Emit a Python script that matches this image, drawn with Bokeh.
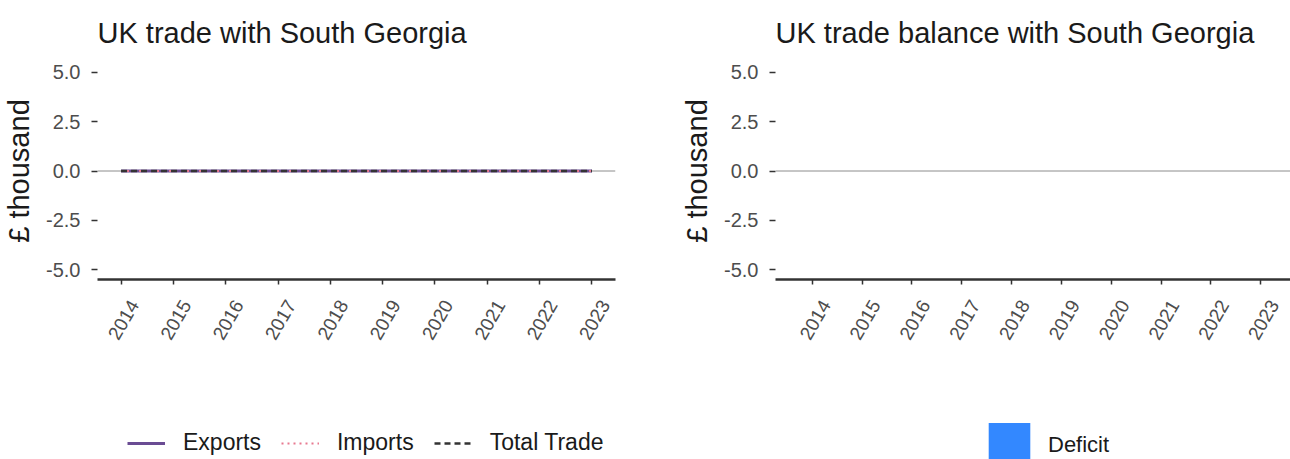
import math
from bokeh.plotting import figure
from bokeh.layouts import row, column
from bokeh.models import (FixedTicker, Span, Legend, LegendItem, Range1d, LinearAxis,
                          CustomLabelingPolicy)
from bokeh.embed import file_html
from bokeh.resources import INLINE

# ---- data ----
years = [2014, 2015, 2016, 2017, 2018, 2019, 2020, 2021, 2022, 2023]
year_labels = ["2014", "2015", "2016", "2017", "2018", "2019", "2020", "2021", "2022", "2023"]
exports = [0, 0, 0, 0, 0, 0, 0, 0, 0, 0]
imports = [0, 0, 0, 0, 0, 0, 0, 0, 0, 0]
total_trade = [0, 0, 0, 0, 0, 0, 0, 0, 0, 0]
balance = [0, 0, 0, 0, 0, 0, 0, 0, 0, 0]
y_ticks = [-5.0, -2.5, 0.0, 2.5, 5.0]
y_tick_labels = ["-5.0", "-2.5", "0.0", "2.5", "5.0"]

FONT = "Liberation Sans"
H = 413      # chart figures
LH = 46      # legend strip

EXP_STYLE = dict(line_color="#6a4c93", line_width=3)
IMP_STYLE = dict(line_color="#e8798f", line_width=2, line_dash="dotted")
TOT_STYLE = dict(line_color="#333333", line_width=2.5, line_dash="6 4")
DEF_STYLE = dict(fill_color="#3388ff", line_color=None)


def style(p, title, xr, label_shift):
    p.title.text = title
    p.title.text_font = FONT
    p.title.text_font_size = "29px"
    p.title.text_font_style = "normal"
    p.title.text_color = "#1a1a1a"
    p.title.align = "left"
    p.title.standoff = 28
    p.outline_line_color = None
    p.xgrid.grid_line_color = None
    p.ygrid.grid_line_color = None

    # main x axis: line + ticks only
    xa = p.xaxis[0]
    xa.ticker = FixedTicker(ticks=years)
    xa.major_label_policy = CustomLabelingPolicy(code="return []")
    xa.major_label_standoff = 0
    xa.axis_line_color = "#333333"
    xa.axis_line_width = 2.5
    xa.major_tick_line_color = "#333333"
    xa.major_tick_line_width = 1.5
    xa.major_tick_out = 5
    xa.major_tick_in = 0
    xa.minor_tick_line_color = None

    # year labels (ggplot-style centring under the ticks)
    p.extra_x_ranges = {"labels": Range1d(xr[0] - label_shift, xr[1] - label_shift)}
    la = LinearAxis(x_range_name="labels", ticker=FixedTicker(ticks=years),
                    major_label_overrides={y: l for y, l in zip(years, year_labels)},
                    major_label_orientation=math.pi / 3, major_label_standoff=6,
                    major_label_text_font=FONT, major_label_text_font_size="19px",
                    major_label_text_color="#4d4d4d",
                    axis_line_color=None, major_tick_line_color=None,
                    major_tick_out=0, major_tick_in=0, minor_tick_line_color=None)
    p.add_layout(la, "below")

    ya = p.yaxis[0]
    ya.ticker = FixedTicker(ticks=y_ticks)
    ya.major_label_overrides = {t: l for t, l in zip(y_ticks, y_tick_labels)}
    ya.major_label_text_font = FONT
    ya.major_label_text_font_size = "20px"
    ya.major_label_text_color = "#4d4d4d"
    ya.major_label_standoff = 11
    ya.axis_line_color = None
    ya.major_tick_line_color = "#333333"
    ya.major_tick_line_width = 1.5
    ya.major_tick_out = 6
    ya.major_tick_in = 0
    ya.minor_tick_line_color = None
    ya.axis_label = "£ thousand"
    ya.axis_label_text_font = FONT
    ya.axis_label_text_font_size = "29px"
    ya.axis_label_text_font_style = "normal"
    ya.axis_label_text_color = "#1a1a1a"
    ya.axis_label_standoff = 8

    p.add_layout(Span(location=0, dimension="width", line_color="#8c8c8c", line_width=1, level="underlay"))


def legend_strip(width):
    f = figure(width=width, height=LH, x_range=(0, 1), y_range=(0, 1),
               x_axis_type=None, y_axis_type=None,
               output_backend="svg", toolbar_location=None,
               min_border_left=0, min_border_right=0, min_border_top=0, min_border_bottom=0)
    f.outline_line_color = None
    f.xgrid.grid_line_color = None
    f.ygrid.grid_line_color = None
    return f


# ---- left: trade ----
xr1 = (2013.55, 2023.45)
p1 = figure(width=648, height=H, x_range=xr1, y_range=(-5.5, 5.5),
            output_backend="svg", toolbar_location=None,
            min_border_left=97, min_border_right=33, min_border_top=62, min_border_bottom=134)
style(p1, "UK trade with South Georgia", xr1, 0.25)
p1.line(years, exports, **EXP_STYLE)
p1.line(years, imports, **IMP_STYLE)
p1.line(years, total_trade, **TOT_STYLE)

# legend strip under left chart (same series, kept outside the strip's visible range)
l1 = legend_strip(648)
k_exp = l1.line(years, exports, **EXP_STYLE)
k_imp = l1.line(years, imports, **IMP_STYLE)
k_tot = l1.line(years, total_trade, **TOT_STYLE)
leg1 = Legend(items=[LegendItem(label="Exports", renderers=[k_exp]),
                     LegendItem(label="Imports", renderers=[k_imp]),
                     LegendItem(label="Total Trade", renderers=[k_tot])],
              orientation="horizontal", location=(127, 3),
              glyph_width=38, glyph_height=26, label_height=26, label_standoff=18, spacing=20,
              padding=0, margin=0, border_line_color=None, background_fill_alpha=0,
              label_text_font=FONT, label_text_font_size="23px", label_text_color="#1a1a1a")
l1.add_layout(leg1)

# ---- right: balance ----
xr2 = (2013.26, 2023.60)
p2 = figure(width=642, height=H, x_range=xr2, y_range=(-5.5, 5.5),
            output_backend="svg", toolbar_location=None,
            min_border_left=127, min_border_right=0, min_border_top=62, min_border_bottom=134)
style(p2, "UK trade balance with South Georgia", xr2, 0.27)
p2.vbar(x=years, top=balance, bottom=0, width=0.9, **DEF_STYLE)

l2 = legend_strip(642)
k_def = l2.vbar(x=years, top=balance, bottom=0, width=0.9, **DEF_STYLE)
leg2 = Legend(items=[LegendItem(label="Deficit", renderers=[k_def])],
              orientation="horizontal", location=(335, -14),
              glyph_width=52, glyph_height=56, label_standoff=13,
              padding=0, margin=0, border_line_color=None, background_fill_alpha=0,
              label_text_font=FONT, label_text_font_size="22px", label_text_color="#1a1a1a")
l2.add_layout(leg2)

layout = column(row(p1, p2), row(l1, l2))
open("out.html", "w").write(file_html(layout, INLINE))
